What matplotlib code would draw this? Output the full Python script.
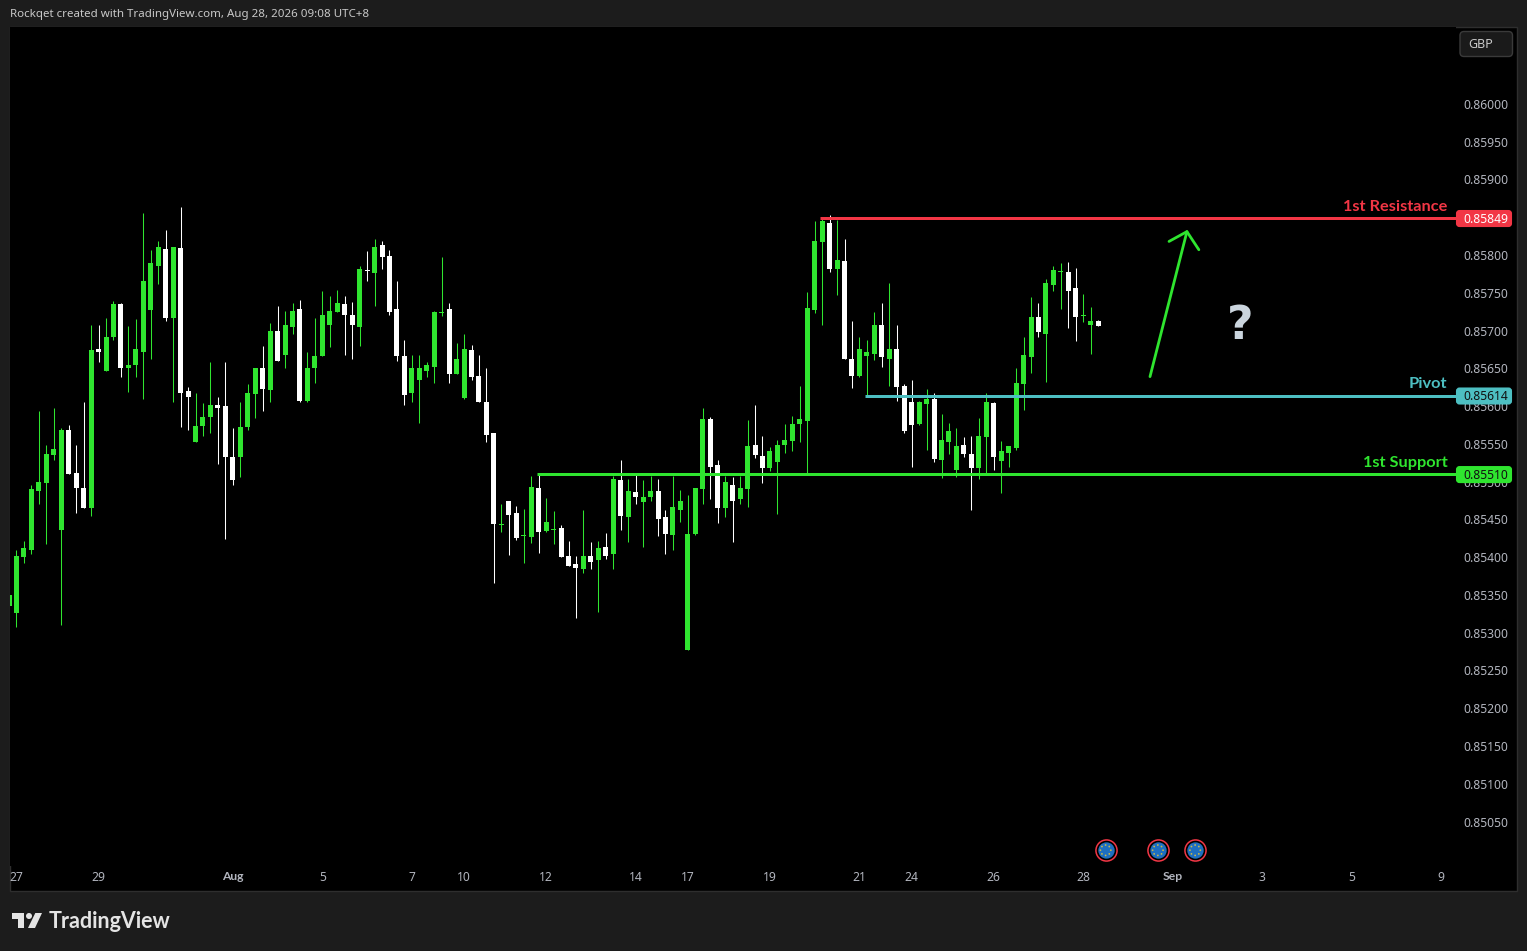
import math
import matplotlib
matplotlib.use('Agg')
import matplotlib.pyplot as plt
from matplotlib.patches import Circle, FancyBboxPatch, Polygon, Rectangle
from matplotlib.transforms import IdentityTransform

# candle values, 4h bars
opens = [.85335, .85326, .85400, .85410, .85488, .85498, .85535, .85436, .85569, .85512,
         .85491, .85465, .85675, .85646, .85691, .85735, .85651, .85655, .85672, .85727,
         .85786, .85808, .85716, .85809, .85620, .85553, .85573, .85585, .85602, .85600,
         .85532, .85532, .85572, .85616, .85651, .85621, .85699, .85667, .85705, .85728,
         .85607, .85650, .85666, .85708, .85725, .85735, .85720, .85705, .85780, .85776,
         .85813, .85799, .85728, .85666, .85617, .85634, .85647, .85652, .85723, .85728,
         .85643, .85611, .85674, .85640, .85605, .85564, .85443, .85474, .85458, .85428,
         .85427, .85492, .85434, .85436, .85438, .85402, .85391, .85384, .85401, .85396,
         .85413, .85404, .85502, .85453, .85486, .85473, .85479, .85487, .85453, .85429,
         .85463, .85277, .85430, .85490, .85583, .85522, .85465, .85495, .85477, .85490,
         .85548, .85534, .85518, .85526, .85548, .85554, .85576, .85580, .85727, .85817,
         .85842, .85781, .85792, .85662, .85640, .85666, .85669, .85707, .85663, .85675,
         .85626, .85605, .85576, .85603, .85609, .85528, .85552, .85516, .85548, .85536,
         .85518, .85559, .85604, .85527, .85538, .85544, .85629, .85665, .85718, .85695,
         .85760, .85778, .85777, .85756, .85719, .85708, .85712]
closes = [.85350, .85401, .85412, .85490, .85500, .85537, .85543, .85568, .85510, .85491,
          .85465, .85674, .85671, .85691, .85735, .85650, .85655, .85675, .85766, .85789,
          .85811, .85717, .85810, .85617, .85612, .85573, .85586, .85601, .85597, .85532,
          .85502, .85572, .85617, .85650, .85622, .85700, .85660, .85707, .85726, .85607,
          .85650, .85666, .85721, .85726, .85736, .85720, .85707, .85781, .85779, .85811,
          .85798, .85725, .85666, .85615, .85650, .85650, .85654, .85725, .85724, .85642,
          .85663, .85675, .85638, .85605, .85562, .85444, .85444, .85456, .85426, .85429,
          .85493, .85433, .85446, .85437, .85400, .85388, .85385, .85401, .85394, .85412,
          .85402, .85503, .85454, .85487, .85479, .85479, .85487, .85450, .85430, .85466,
          .85475, .85430, .85491, .85583, .85519, .85465, .85499, .85475, .85491, .85547,
          .85535, .85518, .85540, .85548, .85555, .85576, .85583, .85730, .85818, .85845,
          .85781, .85793, .85662, .85640, .85675, .85671, .85707, .85665, .85675, .85625,
          .85567, .85575, .85605, .85610, .85530, .85555, .85567, .85547, .85536, .85518,
          .85560, .85605, .85532, .85540, .85547, .85630, .85667, .85718, .85698, .85763,
          .85780, .85779, .85753, .85718, .85720, .85712, .85706]
highs = [.85360, .85410, .85421, .85495, .85594, .85548, .85598, .85571, .85575, .85548,
         .85605, .85707, .85707, .85716, .85739, .85737, .85706, .85715, .85855, .85806,
         .85818, .85833, .85810, .85863, .85625, .85617, .85604, .85658, .85612, .85658,
         .85571, .85605, .85629, .85650, .85679, .85710, .85733, .85726, .85737, .85740,
         .85671, .85716, .85753, .85746, .85754, .85746, .85738, .85786, .85805, .85821,
         .85818, .85807, .85766, .85687, .85667, .85667, .85659, .85726, .85798, .85737,
         .85684, .85695, .85681, .85667, .85651, .85564, .85470, .85474, .85468, .85464,
         .85507, .85511, .85478, .85461, .85442, .85422, .85401, .85462, .85420, .85421,
         .85432, .85508, .85528, .85503, .85512, .85502, .85508, .85504, .85463, .85507,
         .85489, .85482, .85491, .85597, .85585, .85528, .85507, .85506, .85508, .85581,
         .85601, .85561, .85546, .85555, .85576, .85587, .85626, .85751, .85845, .85849,
         .85853, .85846, .85821, .85713, .85691, .85687, .85724, .85736, .85763, .85707,
         .85629, .85634, .85607, .85622, .85617, .85589, .85577, .85571, .85559, .85560,
         .85584, .85617, .85605, .85554, .85547, .85650, .85691, .85744, .85736, .85768,
         .85785, .85789, .85791, .85783, .85748, .85731, .85714]
lows = [.85320, .85307, .85392, .85404, .85470, .85417, .85529, .85310, .85510, .85459,
        .85465, .85454, .85658, .85646, .85687, .85638, .85618, .85638, .85609, .85662,
        .85761, .85712, .85605, .85572, .85568, .85553, .85560, .85565, .85523, .85424,
        .85495, .85506, .85568, .85584, .85593, .85605, .85660, .85651, .85696, .85606,
        .85605, .85630, .85666, .85678, .85724, .85667, .85663, .85679, .85766, .85733,
        .85781, .85720, .85660, .85602, .85605, .85577, .85638, .85631, .85719, .85630,
        .85643, .85609, .85634, .85605, .85553, .85366, .85433, .85403, .85423, .85392,
        .85419, .85406, .85433, .85417, .85400, .85388, .85320, .85379, .85384, .85327,
        .85398, .85384, .85436, .85420, .85470, .85414, .85474, .85428, .85404, .85409,
        .85446, .85277, .85429, .85470, .85477, .85445, .85453, .85420, .85471, .85467,
        .85531, .85498, .85514, .85457, .85538, .85540, .85552, .85510, .85723, .85707,
        .85777, .85747, .85662, .85624, .85638, .85615, .85661, .85652, .85626, .85607,
        .85564, .85519, .85575, .85542, .85526, .85505, .85536, .85506, .85532, .85462,
        .85503, .85510, .85515, .85485, .85520, .85542, .85595, .85644, .85691, .85632,
        .85752, .85728, .85704, .85686, .85711, .85669, .85706]

# date axis
date_idx = [1, 12, 30, 42, 54, 61, 72, 84, 91, 102, 114, 121, 132, 144, 156, 168, 180, 192]
date_labels = ['27', '29', 'Aug', '5', '7', '10', '12', '14', '17', '19', '21', '24', '26',
               '28', 'Sep', '3', '5', '9']

# price axis
price_ticks = [.86000, .85950, .85900, .85850, .85800, .85750, .85700, .85650, .85600, .85550,
               .85500, .85450, .85400, .85350, .85300, .85250, .85200, .85150, .85100, .85050]

# drawn levels
level_names = ['1st Resistance', 'Pivot', '1st Support']
level_prices = [.85849, .85614, .85510]
level_starts = [108.75, 114.75, 70.75]
level_colors = ['#F23645', '#4DBFC2', '#2FE52F']
level_tag_text = ['white', '#111111', '#111111']

# the drawn arrow
arrow_x = [152.95, 157.9]
arrow_y = [.85639, .85831]
head_x = [155.5, 157.9, 159.5]
head_y = [.85818, .85831, .85807]

# economic event icons
event_idx = [147, 154, 159]
event_price = .85012

GREEN = '#2FE52F'
WHITE = '#FFFFFF'
GREY = '#B2B5BE'
W, H = 1527, 951

plt.rcParams['font.family'] = ['Noto Sans', 'DejaVu Sans']

fig = plt.figure(figsize=(W / 100, H / 100), dpi=100, facecolor='#1C1C1C')
fig.patches.append(Rectangle((10 / W, 1 - 891 / H), 1507 / W, 864 / H, transform=fig.transFigure,
                             facecolor='black', edgecolor='#2E2E2E', linewidth=1, zorder=-1))
fig.patches[-1].set_figure(fig)

ax = fig.add_axes([10 / W, 1 - 866 / H, 1446 / W, 839 / H], facecolor='black')
ax.set_xlim(0.13, 193.97)
ax.set_ylim(.849911, .861019)
for s in ax.spines.values():
    s.set_visible(False)

xs = list(range(len(opens)))
cols = [GREEN if c >= o else WHITE for o, c in zip(opens, closes)]
tops = [max(o, c) for o, c in zip(opens, closes)]
bots = [min(o, c) for o, c in zip(opens, closes)]
ax.vlines(xs, lows, highs, colors=cols, linewidth=0.75, zorder=2)
ax.bar(xs, [t - b for t, b in zip(tops, bots)], bottom=bots, width=0.67, color=cols, linewidth=0, zorder=3)

ax.set_xticks(date_idx)
ax.set_xticklabels(date_labels)
for t, name in zip(ax.get_xticklabels(), date_labels):
    if not name.isdigit():
        t.set_fontfamily('Lato')
        t.set_fontweight('bold')
ax.set_yticks(price_ticks)
ax.set_yticklabels(['%.5f' % p for p in price_ticks])
ax.yaxis.tick_right()
ax.tick_params(axis='x', length=0, pad=3.8, labelsize=8.7, colors=GREY)
ax.tick_params(axis='y', length=0, pad=5.3, labelsize=8.7, colors=GREY)

# levels with their names
for name, price, start, col in zip(level_names, level_prices, level_starts, level_colors):
    ax.plot([start, 193.97], [price, price], color=col, lw=2.16, solid_capstyle='butt', zorder=4)
    ax.annotate(name, xy=(192.8, price), xytext=(0, 3), textcoords='offset points', ha='right',
                va='bottom', color=col, fontsize=11.8, family='Lato', fontweight='bold', zorder=5)

ax.plot(arrow_x, arrow_y, color=GREEN, lw=2, solid_capstyle='round', zorder=4)
ax.plot(head_x, head_y, color=GREEN, lw=2, solid_capstyle='round', solid_joinstyle='round', zorder=4)
ax.text(165.1, .85706, '?', color='#CBD5DE', fontsize=33, fontweight='bold', ha='center', va='center',
        family='DejaVu Sans', zorder=5)

# event icons
ax.plot(event_idx, [event_price] * len(event_idx), ls='none', marker='o', ms=15.2, mfc='black',
        mec='#F23645', mew=1.1, zorder=4)
ax.plot(event_idx, [event_price] * len(event_idx), ls='none', marker='o', ms=11.8, mfc='#1E6FC0',
        mew=0, zorder=5)

id_tr = IdentityTransform()


def py(y):
    return H - y


# the stars on the icons
for idx in event_idx:
    cx, cy = ax.transData.transform((idx, event_price))
    for k in range(8):
        a = k * math.pi / 4
        fig.patches.append(Circle((cx + 5.2 * math.cos(a), cy + 5.2 * math.sin(a)), 0.9, transform=id_tr,
                                  facecolor='#C9B84A', edgecolor='none', zorder=2))
        fig.patches[-1].set_figure(fig)

# price tags over the axis
for price, col, txt_col in zip(level_prices, level_colors, level_tag_text):
    yc = ax.transData.transform((0, price))[1]
    fig.patches.append(FancyBboxPatch((1457, yc - 8), 54, 15, boxstyle='round,pad=0,rounding_size=2.5',
                                      transform=id_tr, facecolor=col, edgecolor=col, linewidth=1.5, zorder=2))
    fig.patches[-1].set_figure(fig)
    fig.text(1463.5, yc - 1, '%.5f' % price, transform=id_tr, color=txt_col, fontsize=8.7, va='center',
             zorder=3)

# currency button
fig.patches.append(FancyBboxPatch((1460, py(56.5)), 52.5, 25, boxstyle='round,pad=0,rounding_size=4',
                                  transform=id_tr, facecolor='#1A1A1A', edgecolor='#3A3A3A', linewidth=1, zorder=2))
fig.patches[-1].set_figure(fig)
fig.text(1468, py(44.5), 'GBP', transform=id_tr, color='#C8C8C8', fontsize=9, va='center', zorder=3)

# header and footer
fig.text(10, py(15), 'Rockqet created with TradingView.com, Aug 28, 2026 09:08 UTC+8', transform=id_tr,
         color='#C8C8C8', fontsize=8.3, va='center')
fig.text(48.5, py(921), 'TradingView', transform=id_tr, color='#E4E4E4', fontsize=15.5, family='Lato',
         fontweight='bold', va='center')
for pts in ([(12, 913), (24, 913), (24, 928), (18, 928), (18, 919), (12, 919)],
            [(35.3, 913), (42, 913), (35, 928), (28, 928)]):
    fig.patches.append(Polygon([(x, py(y)) for x, y in pts], closed=True, transform=id_tr,
                               facecolor='#E4E4E4', edgecolor='none', zorder=2))
    fig.patches[-1].set_figure(fig)
fig.patches.append(Circle((29, py(916)), 3, transform=id_tr, facecolor='#E4E4E4', edgecolor='none', zorder=2))
fig.patches[-1].set_figure(fig)

fig.savefig('out.png', dpi=100, facecolor=fig.get_facecolor())
